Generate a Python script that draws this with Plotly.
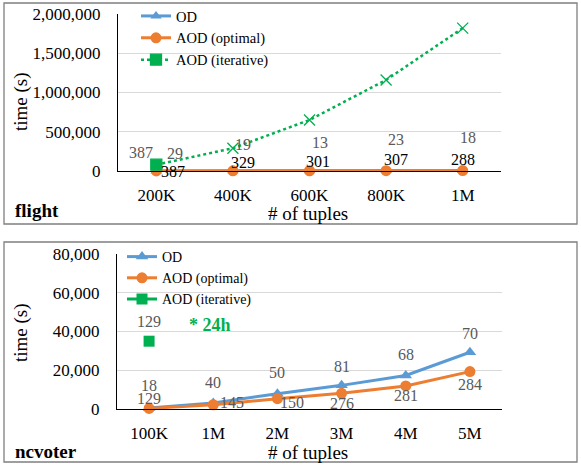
import plotly.graph_objects as go

# ---------------- data ----------------
flight_x = ["200K", "400K", "600K", "800K", "1M"]
flight_od = [1500, 3000, 4500, 6000, 7500]
flight_aod_opt = [1000, 2000, 3000, 4000, 5000]
flight_aod_iter = [80000, 290000, 650000, 1160000, 1820000]
flight_iter_symbols = ["square", "x-thin", "x-thin", "x-thin", "x-thin"]
flight_od_labels = ["29", "19", "13", "23", "18"]
flight_opt_labels = ["387", "329", "301", "307", "288"]
flight_iter_labels = ["387"]

nc_x = ["100K", "1M", "2M", "3M", "4M", "5M"]
nc_od = [500, 3100, 7900, 12200, 17300, 29300]
nc_aod_opt = [300, 2200, 5300, 8100, 11900, 19300]
nc_aod_iter = [35000]
nc_od_labels = ["18", "40", "50", "81", "68", "70"]
nc_opt_labels = ["129", "145", "150", "276", "281", "284"]
nc_iter_labels = ["129"]

# label offsets in pixels (dx, dy)
flight_od_off = [(19, 17), (10, 26), (10, 28), (10, 31), (5, 33)]
flight_opt_off = [(17, -1), (10, 8), (8, 9), (10, 11), (0, 11)]
flight_iter_off = [(-15, 12)]
nc_od_off = [(0, 23), (0, 20), (0, 21), (0, 19), (0, 21), (0, 19)]
nc_opt_off = [(0, 10), (19, 2), (15, -4), (0, -10), (0, -10), (0, -13)]
nc_iter_off = [(0, 20)]

BLUE = "#5B9BD5"
ORANGE = "#ED7D31"
GREEN = "#00B050"
GRAY = "#595959"
FONT = "Liberation Serif"

W, H = 581, 466

def px(x):
    return x / W

def py(y):
    return 1 - y / H

fig = go.Figure()

# top panel traces
fig.add_trace(go.Scatter(x=flight_x, y=flight_od, name="OD", mode="lines+markers",
                         line=dict(color=BLUE, width=3), marker=dict(symbol="triangle-up", size=10, color=BLUE),
                         xaxis="x", yaxis="y", legend="legend", cliponaxis=False))
fig.add_trace(go.Scatter(x=flight_x, y=flight_aod_opt, name="AOD (optimal)", mode="lines+markers",
                         line=dict(color=ORANGE, width=3), marker=dict(symbol="circle", size=11, color=ORANGE),
                         xaxis="x", yaxis="y", legend="legend", cliponaxis=False))
fig.add_trace(go.Scatter(x=flight_x, y=flight_aod_iter, name="AOD (iterative)", mode="lines+markers",
                         line=dict(color=GREEN, width=2.5, dash="dot"),
                         marker=dict(symbol=flight_iter_symbols, size=11, color=GREEN,
                                     line=dict(color=GREEN, width=1.3)),
                         xaxis="x", yaxis="y", legend="legend", cliponaxis=False))

# bottom panel traces
fig.add_trace(go.Scatter(x=nc_x, y=nc_od, name="OD", mode="lines+markers",
                         line=dict(color=BLUE, width=3), marker=dict(symbol="triangle-up", size=11, color=BLUE),
                         xaxis="x2", yaxis="y2", legend="legend2", cliponaxis=False))
fig.add_trace(go.Scatter(x=nc_x, y=nc_aod_opt, name="AOD (optimal)", mode="lines+markers",
                         line=dict(color=ORANGE, width=3), marker=dict(symbol="circle", size=11, color=ORANGE),
                         xaxis="x2", yaxis="y2", legend="legend2", cliponaxis=False))
fig.add_trace(go.Scatter(x=nc_x[:1], y=nc_aod_iter, name="AOD (iterative)", mode="lines+markers",
                         line=dict(color=GREEN, width=3), marker=dict(symbol="square", size=11, color=GREEN),
                         xaxis="x2", yaxis="y2", legend="legend2", cliponaxis=False))

ann = []

def add_labels(xs, ys, labels, offs, xref, yref, color):
    for xv, yv, t, (dx, dy) in zip(xs, ys, labels, offs):
        ann.append(dict(x=xv, y=yv, xref=xref, yref=yref, text=t, showarrow=False,
                        xanchor="center", yanchor="middle",
                        xshift=dx, yshift=dy, font=dict(family=FONT, size=16, color=color)))

add_labels(flight_x, flight_od, flight_od_labels, flight_od_off, "x", "y", GRAY)
add_labels(flight_x, flight_aod_opt, flight_opt_labels, flight_opt_off, "x", "y", "#000000")
add_labels(flight_x, flight_aod_iter, flight_iter_labels, flight_iter_off, "x", "y", GRAY)
add_labels(nc_x, nc_od, nc_od_labels, nc_od_off, "x2", "y2", GRAY)
add_labels(nc_x, nc_aod_opt, nc_opt_labels, nc_opt_off, "x2", "y2", GRAY)
add_labels(nc_x, nc_aod_iter, nc_iter_labels, nc_iter_off, "x2", "y2", GRAY)

# texts
def txt(x, y, t, size, color="#000", angle=0, xanchor="center"):
    return dict(x=px(x), y=py(y), xref="paper", yref="paper", text=t, showarrow=False,
                xanchor=xanchor, yanchor="middle", textangle=angle,
                font=dict(family=FONT, size=size, color=color))

ann += [
    txt(308, 213, "# of tuples", 19),
    txt(308, 452, "# of tuples", 19),
    txt(21, 102, "time (s)", 19, angle=-90),
    txt(21, 333, "time (s)", 19, angle=-90),
    txt(13, 210, "<b>flight</b>", 19, xanchor="left"),
    txt(13, 451, "<b>ncvoter</b>", 19, xanchor="left"),
    txt(210, 325, "<b>* 24h</b>", 18, color=GREEN),
]

shapes = [
    dict(type="rect", xref="paper", yref="paper", x0=px(4), x1=px(577), y0=py(224), y1=py(3),
         line=dict(color="#7F7F7F", width=1.3)),
    dict(type="rect", xref="paper", yref="paper", x0=px(4), x1=px(577), y0=py(462), y1=py(242),
         line=dict(color="#7F7F7F", width=1.3)),
]

tickfont = dict(family=FONT, size=17, color="#000")
common_x = dict(type="category", showline=True, linecolor="#000", linewidth=1, showgrid=False, ticks="",
                tickfont=tickfont, ticklabelstandoff=9, automargin=False, fixedrange=True)
common_y = dict(showline=True, linecolor="#000", linewidth=1, showgrid=True, gridcolor="#D9D9D9",
                ticks="", tickfont=tickfont, zeroline=False, ticklabelstandoff=13, automargin=False,
                fixedrange=True)

fig.update_layout(
    width=W, height=H,
    margin=dict(l=0, r=0, t=0, b=0, autoexpand=False),
    paper_bgcolor="white", plot_bgcolor="white",
    font=dict(family=FONT),
    xaxis=dict(domain=[px(118), px(501)], anchor="y", range=[-0.5, len(flight_x) - 0.5], **common_x),
    yaxis=dict(domain=[py(171), py(14)], anchor="x", range=[0, 2000000], dtick=500000,
               tickformat=",d", **common_y),
    xaxis2=dict(domain=[px(117), px(502)], anchor="y2", range=[-0.5, len(nc_x) - 0.5], **common_x),
    yaxis2=dict(domain=[py(409), py(254)], anchor="x2", range=[0, 80000], dtick=20000,
                tickformat=",d", **common_y),
    legend=dict(x=px(136), y=py(0), xanchor="left", yanchor="top", bgcolor="rgba(0,0,0,0)",
                font=dict(family=FONT, size=14.5, color="#000"), itemwidth=30, tracegroupgap=0),
    legend2=dict(x=px(122), y=py(241), xanchor="left", yanchor="top", bgcolor="rgba(0,0,0,0)",
                 font=dict(family=FONT, size=14, color="#000"), itemwidth=30, tracegroupgap=0),
    annotations=ann,
    shapes=shapes,
    showlegend=True,
)

fig.write_html("out.html", config={"displayModeBar": False},
               post_script="document.body.style.margin='0';document.body.style.overflow='hidden';")
